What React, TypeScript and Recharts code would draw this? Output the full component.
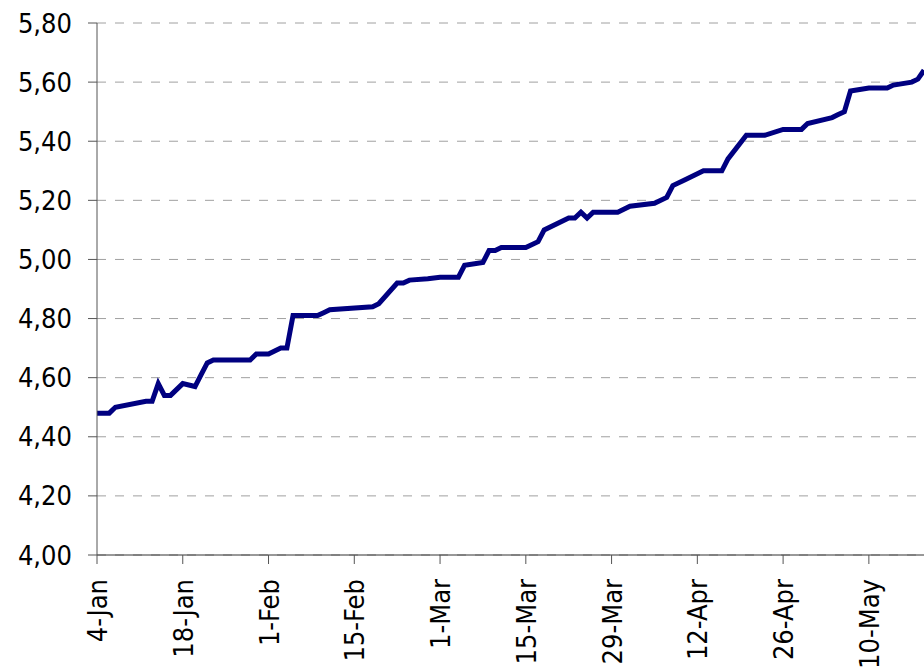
import { LineChart, Line, XAxis, YAxis, CartesianGrid } from "recharts";

// day 0 = 4-Jan
const days = [
  0, 2, 3, 8, 9, 10, 11, 12, 14, 16, 17, 18, 19, 25, 26, 28, 29, 30, 31, 32, 36, 37, 38, 45, 46,
  49, 50, 51, 54, 56, 59, 60, 63, 64, 65, 66, 70, 72, 73, 77, 78, 79, 80, 81, 85, 87, 91, 93, 94,
  96, 99, 102, 103, 106, 109, 112, 115, 116, 120, 121, 122, 123, 126, 129, 130, 133, 134, 135,
];
const rates = [
  4.48, 4.48, 4.5, 4.52, 4.52, 4.58, 4.54, 4.54, 4.58, 4.57, 4.61, 4.65, 4.66, 4.66, 4.68, 4.68,
  4.69, 4.7, 4.7, 4.81, 4.81, 4.82, 4.83, 4.84, 4.85, 4.92, 4.92, 4.93, 4.935, 4.94, 4.94, 4.98,
  4.99, 5.03, 5.03, 5.04, 5.04, 5.06, 5.1, 5.14, 5.14, 5.16, 5.14, 5.16, 5.16, 5.18, 5.19, 5.21,
  5.25, 5.27, 5.3, 5.3, 5.34, 5.42, 5.42, 5.44, 5.44, 5.46, 5.48, 5.49, 5.5, 5.57, 5.58, 5.58,
  5.59, 5.6, 5.61, 5.64,
];

const tickDays = [0, 14, 28, 42, 56, 70, 84, 98, 112, 126];
const tickLabels = ["4-Jan", "18-Jan", "1-Feb", "15-Feb", "1-Mar", "15-Mar", "29-Mar", "12-Apr", "26-Apr", "10-May"];
const yTicks = [4.0, 4.2, 4.4, 4.6, 4.8, 5.0, 5.2, 5.4, 5.6, 5.8];

const data = days.map((d, i) => ({ day: d, rate: rates[i] }));

const font = "'DejaVu Sans Condensed', 'DejaVu Sans', sans-serif";

function DateTick({ x, y, payload }: any) {
  const label = tickLabels[tickDays.indexOf(payload.value)] ?? "";
  return (
    <text
      transform={`translate(${x + 10},${y + 13}) rotate(-90)`}
      textAnchor="end"
      fontFamily={font}
      fontSize={27}
      fill="#000"
    >
      {label}
    </text>
  );
}

export default function App() {
  // pinned to the page corner so the chart can run to the window edge without scrollbars
  return (
    <div style={{ position: "absolute", left: 0, top: 0, width: 924, height: 671, overflow: "hidden", background: "#fff" }}>
      <LineChart
        width={924}
        height={671}
        data={data}
        margin={{ top: 23, right: 0, bottom: 16, left: 8 }}
        style={{ fontFamily: font }}
      >
        <CartesianGrid vertical={false} stroke="#a0a0a0" strokeDasharray="9 9" />
        <XAxis
          dataKey="day"
          type="number"
          domain={[0, 135]}
          ticks={tickDays}
          interval={0}
          height={100}
          tickSize={9}
          stroke="#333"
          tickLine={{ stroke: "#555" }}
          tick={<DateTick />}
        />
        <YAxis
          type="number"
          domain={[4, 5.8]}
          ticks={yTicks}
          interval={0}
          width={89}
          tickSize={9}
          tickMargin={16}
          stroke="#555"
          tick={{ fill: "#000", fontSize: 27, fontFamily: font }}
          tickFormatter={(v: number) => v.toFixed(2).replace(".", ",")}
        />
        <Line
          type="linear"
          dataKey="rate"
          stroke="#000080"
          strokeWidth={5}
          dot={false}
          isAnimationActive={false}
        />
      </LineChart>
    </div>
  );
}
